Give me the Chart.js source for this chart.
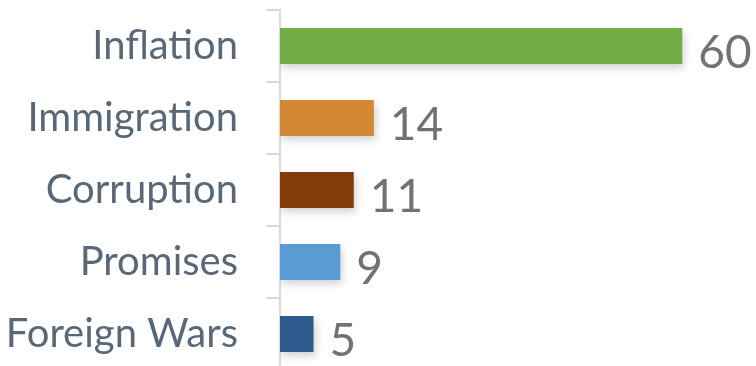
<!DOCTYPE html>
<html>
<head>
<meta charset="utf-8">
<script src="https://cdn.jsdelivr.net/npm/chart.js@4/dist/chart.umd.min.js"></script>
<style>
  html, body { margin: 0; padding: 0; overflow: hidden; background: #fff; }
  #wrap { position: relative; width: 756px; height: 370px; }
</style>
</head>
<body>
<div id="wrap"><canvas id="c" width="756" height="370"></canvas></div>
<script>
const categories = ["Inflation", "Immigration", "Corruption", "Promises", "Foreign Wars"];
const values = [60, 14, 11, 9, 5];
const barColors = ["#70ad47", "#d38933", "#843c0c", "#5b9bd5", "#2e5a8e"];

const shadowPlugin = {
  id: 'barShadow',
  beforeDatasetsDraw(chart) {
    const ctx = chart.ctx;
    ctx.save();
    ctx.shadowColor = 'rgba(0,0,0,0.18)';
    ctx.shadowBlur = 8;
    ctx.shadowOffsetX = 2;
    ctx.shadowOffsetY = 4;
  },
  afterDatasetsDraw(chart) {
    chart.ctx.restore();
  }
};

const labelPlugin = {
  id: 'valueLabels',
  afterDatasetsDraw(chart) {
    const ctx = chart.ctx;
    const meta = chart.getDatasetMeta(0);
    ctx.save();
    ctx.font = '46px Lato, "Open Sans", sans-serif';
    ctx.fillStyle = '#767171';
    ctx.textAlign = 'left';
    ctx.textBaseline = 'alphabetic';
    meta.data.forEach((bar, i) => {
      const v = chart.data.datasets[0].data[i];
      ctx.fillText(String(v), bar.x + 16, bar.y + bar.height / 2 + 4);
    });
    ctx.restore();
  }
};

new Chart(document.getElementById('c'), {
  type: 'bar',
  data: {
    labels: categories,
    datasets: [{
      data: values,
      backgroundColor: barColors,
      borderWidth: 0,
      categoryPercentage: 1.0,
      barPercentage: 0.5
    }]
  },
  options: {
    indexAxis: 'y',
    responsive: false,
    animation: false,
    devicePixelRatio: 1,
    layout: { padding: { top: 10, right: 0, bottom: 0, left: 0 } },
    plugins: { legend: { display: false }, tooltip: { enabled: false } },
    scales: {
      x: {
        display: false,
        min: 0,
        max: 71
      },
      y: {
        afterFit(scale) {
          scale.width = 280;
          scale.paddingTop = 0;
          scale.paddingBottom = 0;
        },
        grid: {
          offset: true,
          drawOnChartArea: false,
          drawTicks: true,
          tickLength: 14,
          color: '#d9d9d9',
          lineWidth: 2
        },
        border: { display: true, color: '#d9d9d9', width: 2 },
        ticks: {
          color: '#596878',
          font: { family: 'Lato, "Open Sans", sans-serif', size: 40 },
          padding: 28
        }
      }
    }
  },
  plugins: [shadowPlugin, labelPlugin]
});
</script>
</body>
</html>
